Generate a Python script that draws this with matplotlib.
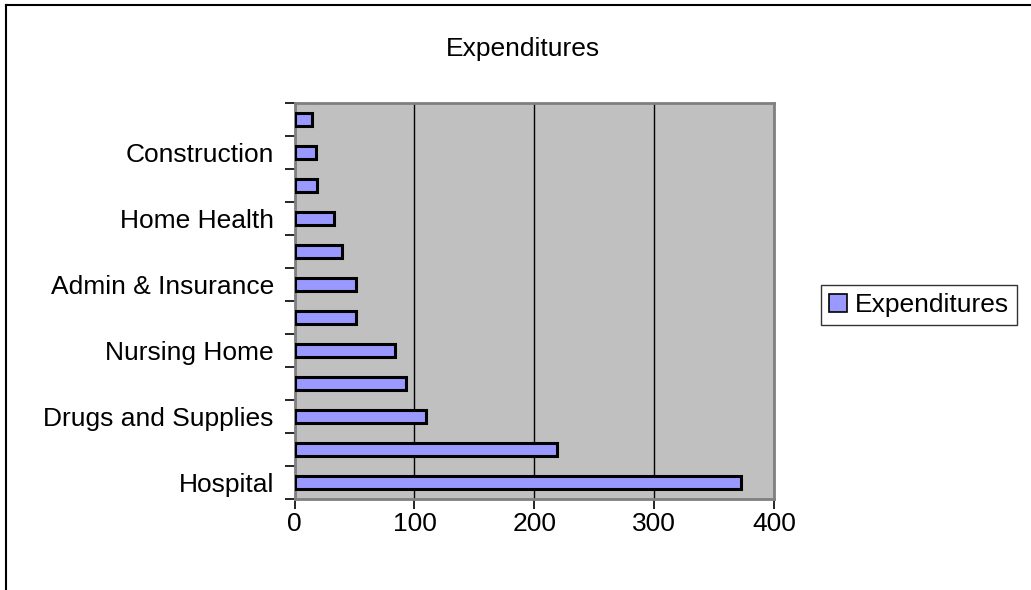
import numpy as np
import matplotlib
matplotlib.use("Agg")
import matplotlib.pyplot as plt
from matplotlib.lines import Line2D

plt.rcParams['font.family'] = ['Liberation Sans', 'DejaVu Sans']

# data, bottom to top (only every other label is shown on the chart)
categories = ["Hospital", "Physician and Clinical", "Drugs and Supplies",
              "Other Personal", "Nursing Home", "Dental",
              "Admin & Insurance", "Other Professional", "Home Health",
              "Research", "Construction", "Public Health"]
expenditures = [372.5, 219, 109.5, 92.5, 83.6, 51.3, 51, 39.5, 32.6, 18.6, 17.5, 14.2]
x_ticks = [0, 100, 200, 300, 400]

fig = plt.figure(figsize=(10.31, 5.90), dpi=100)
ax = fig.add_axes([0.2858, 0.1542, 0.4649, 0.6712])
ax.set_facecolor('#C0C0C0')

y = np.arange(len(categories))
ax.barh(y, expenditures, height=0.41, color='#9999FF', edgecolor='black',
        linewidth=2.2, label='Expenditures', zorder=3)

ax.set_xlim(0, 400)
ax.set_ylim(-0.5, len(categories) - 0.5)
ax.set_xticks(x_ticks)
ax.xaxis.grid(True, color='black', linewidth=1, zorder=1)
ax.set_axisbelow(True)

ax.set_yticks(y[::2])
ax.set_yticklabels(categories[::2])
ax.set_yticks(np.arange(-0.5, len(categories), 1), minor=True)
ax.tick_params(axis='y', which='major', length=0, pad=15, labelsize=19)
ax.tick_params(axis='y', which='minor', length=7, width=1.2, direction='out')
ax.tick_params(axis='x', length=7, width=1.2, direction='out', pad=2, labelsize=19)

for s in ax.spines.values():
    s.set_color('#808080')
    s.set_linewidth(2)

fig.text(523 / 1031, 1 - 49 / 590, "Expenditures", ha='center', va='center', fontsize=19)

leg = fig.legend(handles=ax.patches[:1], labels=['Expenditures'],
                 loc='center left', bbox_to_anchor=(821 / 1031, 1 - 305 / 590),
                 fontsize=19, frameon=True, fancybox=False, borderpad=0.3,
                 handlelength=0.7, handleheight=0.7, handletextpad=0.27,
                 borderaxespad=0)
leg.get_frame().set_edgecolor('black')
leg.get_frame().set_linewidth(1)
leg.legend_handles[0].set_linewidth(1.2)

# outer chart border (top and left visible)
fig.add_artist(Line2D([6 / 1031, 1], [1 - 5 / 590, 1 - 5 / 590],
                      transform=fig.transFigure, color='black', linewidth=1.5))
fig.add_artist(Line2D([6 / 1031, 6 / 1031], [0, 1 - 5 / 590],
                      transform=fig.transFigure, color='black', linewidth=1.5))

fig.savefig("out.png", dpi=100)
